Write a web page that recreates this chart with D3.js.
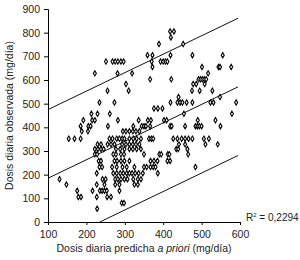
<!DOCTYPE html>
<html><head><meta charset="utf-8">
<script src="https://cdn.jsdelivr.net/npm/d3@7"></script>
<style>
html,body{margin:0;padding:0;background:#fff;}
svg{display:block;font-family:"Liberation Sans",Arial,sans-serif;}
</style></head>
<body>
<svg id="c" width="300" height="260"></svg>
<script>
// Observed points grouped by rows of observed dose
const rowObserved = [805,780,752,705,678,655,628,603,583,555,528,505,480,457,430,405,383,352,328,308,286,258,232,206,181,158,132,106,80,56];
const rowPredicted = [
  [418,428],
  [420],
  [389,452],
  [359,372,419,476,555],
  [251,268,275,282,290,297,370,393,400,406,411],
  [372,501,544,548,577],
  [222,281,319,517],
  [366,421,492,497,502,507,512],
  [303,478,486,508],
  [255,310,475,495,528],
  [440,548],
  [234,273,419,437,444,450,461,476,523,531,590],
  [376,386,398],
  [213,229,261,454,579],
  [192,215,222,282,336,360,368,402,409,490,536],
  [185,205,211,256,322,344,350,355,366,418,422,457,484,489,494,500,549],
  [188,204,295,303,312,321,329,338],
  [154,169,185,260,268,279,286,293,299,312,322,331,342,363,369,374,426,437,448,457,466,476,506,519],
  [229,238,255,264,273,293,303,312,321,329,338,441,457,510,542],
  [222,230,238,245,277,288,299,312,321,331,342,434,439,463],
  [222,228,270,277,290,298,350,390,395,412,416,465],
  [232,238,273,280,290,299,312,367,376,385,411,418],
  [234,241,267,279,294,305,325,350,357,367,374,380,484],
  [227,270,279,288,296,305,312,319,327,336,347,386],
  [130,242,250,275,282,290,299,307,322,334,342],
  [148,227,247,275,286,325,334],
  [176,216,235,241,247,253,286],
  [179,186,227,254,264],
  [292,298],
  [228]
];
// Fitted line and prediction bounds
const lineX = [100, 595];
const upperY = [475, 861];
const fitY = [185, 571];
const lowerX = [235, 595];
const lowerY = [0, 281];
const xTicks = [100,200,300,400,500,600];
const yTicks = [0,100,200,300,400,500,600,700,800,900];
const r2Label = "0,2294";

const points = [];
rowObserved.forEach((o,i)=>rowPredicted[i].forEach(p=>points.push({p:p,o:o})));

const svg = d3.select("#c");
const x = d3.scaleLinear().domain([100,600]).range([48,240]);
const y = d3.scaleLinear().domain([0,900]).range([222,9]);
const txt = "#222";

const gx = svg.append("g").attr("transform","translate(0,222)")
  .call(d3.axisBottom(x).tickValues(xTicks).tickSize(3).tickPadding(6).tickFormat(d3.format("d")));
const gy = svg.append("g").attr("transform","translate(48,0)")
  .call(d3.axisLeft(y).tickValues(yTicks).tickSize(4).tickPadding(4).tickFormat(d3.format("d")));
[gx,gy].forEach(g=>{
  g.select(".domain").attr("stroke","#000").attr("stroke-width",1);
  g.selectAll(".tick line").attr("stroke","#000");
  g.selectAll(".tick text").attr("fill",txt).style("font-size","10.5px").style("font-family","'Liberation Sans',Arial,sans-serif");
});

const line = d3.line().x(d=>x(d[0])).y(d=>y(d[1]));
const lines = [
  d3.zip(lineX, upperY),
  d3.zip(lineX, fitY),
  d3.zip(lowerX, lowerY)
];
svg.append("g").selectAll("path").data(lines).join("path")
  .attr("d", line).attr("fill","none").attr("stroke","#111").attr("stroke-width",1);

const sym = d3.symbol().type(d3.symbolDiamond).size(8);
svg.append("g").selectAll("path").data(points).join("path")
  .attr("transform",d=>`translate(${x(d.p)},${y(d.o)})`)
  .attr("d", sym).attr("fill","#fff").attr("stroke","#000").attr("stroke-width",1.1);

svg.append("text").attr("x",144).attr("y",252).attr("text-anchor","middle")
  .attr("fill",txt).style("font-size","10.5px")
  .call(t=>{
    t.append("tspan").text("Dosis diaria predicha ");
    t.append("tspan").attr("font-style","italic").text("a priori");
    t.append("tspan").text(" (mg/día)");
  });

svg.append("text").attr("transform","translate(13,115.5) rotate(-90)").attr("text-anchor","middle")
  .attr("fill",txt).style("font-size","10.5px").text("Dosis diaria observada (mg/día)");

const r2 = svg.append("text").attr("x",246).attr("y",221).attr("fill",txt).style("font-size","10px");
r2.append("tspan").text("R");
r2.append("tspan").attr("dy",-4).style("font-size","6px").text("2");
r2.append("tspan").attr("dy",4).text(" = " + r2Label);
</script>
</body></html>
